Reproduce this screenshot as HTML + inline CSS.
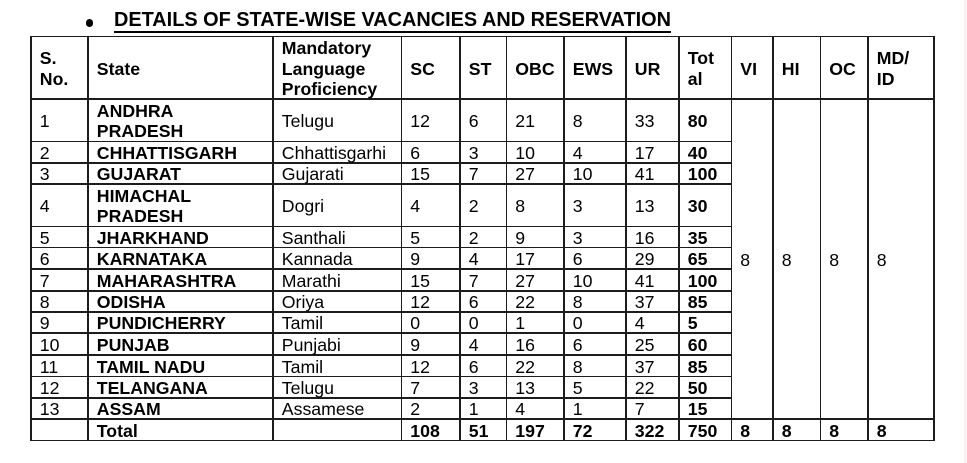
<!DOCTYPE html>
<html>
<head>
<meta charset="utf-8">
<style>
html,body{margin:0;padding:0;background:#fff;}
body{width:967px;height:463px;position:relative;overflow:hidden;font-family:"Liberation Sans",Arial,sans-serif;color:#000;}
.v{position:absolute;width:1.5px;background:#1c1c1c;}
.h{position:absolute;height:1.5px;background:#1c1c1c;}
.c{position:absolute;display:flex;align-items:center;font-size:17.7px;line-height:20.4px;white-space:nowrap;}
.c span{position:relative;top:1px;}
.b{font-weight:bold;}
</style>
</head>
<body>
<div style="position:absolute;left:964px;top:0;width:3px;height:463px;background:#f8f3f0;"></div>
<div style="position:absolute;left:85.7px;top:19.2px;width:7.6px;height:7.6px;border-radius:50%;background:#000;"></div>
<div style="position:absolute;left:114px;top:11.2px;font-size:19.9px;line-height:19.9px;font-weight:bold;white-space:nowrap;">DETAILS OF STATE-WISE VACANCIES AND RESERVATION</div>
<div style="position:absolute;left:114.3px;top:30.8px;width:556.7px;height:1.8px;background:#000;"></div>
<div id="t"></div>
<script>
(function(){
var cols=[31,88,273,401.5,460,506.5,564,626,679,731.5,773,820.5,868,934];
var rows=[36.5,99,141.5,163,184,226.5,247.5,269,291,312,333,355,376.5,398,419,440.5];
var out=[];
cols.forEach(function(x){out.push('<div class="v" style="left:'+(x-0.75)+'px;top:'+(rows[0]-0.75)+'px;height:'+(rows[rows.length-1]-rows[0]+1.5)+'px"></div>');});
rows.forEach(function(y,i){
 var full=(i==0||i==1||i==14||i==15);
 var x2=full?934:731.5;
 out.push('<div class="h" style="left:'+(31-0.75)+'px;top:'+(y-0.75)+'px;width:'+(x2-31+1.5)+'px"></div>');
});
function cell(ci,r0,r1,txt,bold){
 var x=cols[ci]+8.8, y=rows[r0], h=rows[r1]-rows[r0];
 out.push('<div class="c'+(bold?' b':'')+'" style="left:'+x+'px;top:'+y+'px;height:'+h+'px"><span>'+txt+'</span></div>');
}
var hdr=['S.<br>No.','State','Mandatory<br>Language<br>Proficiency','SC','ST','OBC','EWS','UR','Tot<br>al','VI','HI','OC','MD/<br>ID'];
hdr.forEach(function(t,i){cell(i,0,1,t,true);});
var data=[
['1','ANDHRA<br>PRADESH','Telugu','12','6','21','8','33','80'],
['2','CHHATTISGARH','Chhattisgarhi','6','3','10','4','17','40'],
['3','GUJARAT','Gujarati','15','7','27','10','41','100'],
['4','HIMACHAL<br>PRADESH','Dogri','4','2','8','3','13','30'],
['5','JHARKHAND','Santhali','5','2','9','3','16','35'],
['6','KARNATAKA','Kannada','9','4','17','6','29','65'],
['7','MAHARASHTRA','Marathi','15','7','27','10','41','100'],
['8','ODISHA','Oriya','12','6','22','8','37','85'],
['9','PUNDICHERRY','Tamil','0','0','1','0','4','5'],
['10','PUNJAB','Punjabi','9','4','16','6','25','60'],
['11','TAMIL NADU','Tamil','12','6','22','8','37','85'],
['12','TELANGANA','Telugu','7','3','13','5','22','50'],
['13','ASSAM','Assamese','2','1','4','1','7','15']
];
data.forEach(function(r,ri){
 r.forEach(function(t,ci){cell(ci,ri+1,ri+2,t,(ci==1||ci==8));});
});
for(var k=9;k<13;k++){cell(k,1,14,'8',false);}
var tot=['','Total','','108','51','197','72','322','750','8','8','8','8'];
tot.forEach(function(t,ci){if(t)cell(ci,14,15,t,true);});
document.getElementById('t').innerHTML=out.join('');
})();
</script>
</body>
</html>
